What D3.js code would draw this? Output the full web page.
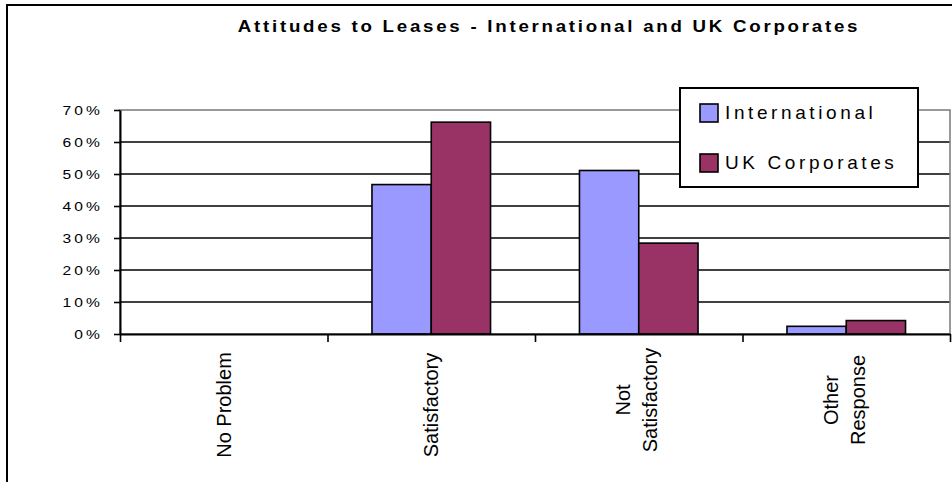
<!DOCTYPE html>
<html>
<head>
<meta charset="utf-8">
<script src="https://cdn.jsdelivr.net/npm/d3@7"></script>
<style>
  html, body { margin: 0; padding: 0; background: #fff; }
  svg { display: block; font-family: "Liberation Sans", Arial, sans-serif; }
</style>
</head>
<body>
<svg id="chart" width="952" height="482"></svg>
<script>
// Survey answers, share of respondents (%)
const categories = ["No Problem", "Satisfactory", "Not Satisfactory", "Other Response"];
const categoryLines = [["No Problem"], ["Satisfactory"], ["Not", "Satisfactory"], ["Other", "Response"]];
const seriesNames = ["International", "UK Corporates"];
const international = [0, 46.7, 51.1, 2.4];
const ukCorporates = [0, 66.2, 28.4, 4.2];
const yTicks = [0, 10, 20, 30, 40, 50, 60, 70];
const titleText = "Attitudes to Leases - International and UK Corporates";

const seriesColors = ["#9999FF", "#993366"];
const seriesValues = [international, ukCorporates];

const svg = d3.select("#chart");

// chart frame
svg.append("rect")
  .attr("x", 7).attr("y", 5)
  .attr("width", 990).attr("height", 520)
  .attr("fill", "#fff").attr("stroke", "#000").attr("stroke-width", 2);

const plot = { left: 120, right: 950, top: 110, bottom: 334 };

const y = d3.scaleLinear().domain([0, 70]).range([plot.bottom, plot.top]);

// category slots with a 150% gap between bar groups
const gap = 1.5 / 3.5;
const x0 = d3.scaleBand().domain(categories)
  .range([plot.left, plot.right])
  .paddingInner(gap).paddingOuter(gap / 2);
const x1 = d3.scaleBand().domain(seriesNames).range([0, x0.bandwidth()]);

// slot boundaries for the category axis ticks
const xEdge = d3.scaleLinear().domain([0, categories.length]).range([plot.left, plot.right]);

// gridlines
svg.append("g")
  .selectAll("line")
  .data(yTicks.filter(t => t > 0 && t < 70))
  .join("line")
  .attr("x1", plot.left).attr("x2", plot.right)
  .attr("y1", d => y(d)).attr("y2", d => y(d))
  .attr("stroke", "#000").attr("stroke-width", 1.6);

// plot area border
svg.append("rect")
  .attr("x", plot.left).attr("y", plot.top)
  .attr("width", plot.right - plot.left).attr("height", plot.bottom - plot.top)
  .attr("fill", "none").attr("stroke", "#808080").attr("stroke-width", 1.6);

// bars
const groups = svg.append("g")
  .selectAll("g")
  .data(categories)
  .join("g")
  .attr("transform", d => `translate(${x0(d)},0)`);

groups.selectAll("rect")
  .data((c, i) => seriesNames.map((s, k) => ({ s, v: seriesValues[k][i], k })))
  .join("rect")
  .filter(d => d.v > 0)
  .attr("x", d => x1(d.s))
  .attr("width", x1.bandwidth())
  .attr("y", d => y(d.v))
  .attr("height", d => y(0) - y(d.v))
  .attr("fill", d => seriesColors[d.k])
  .attr("stroke", "#000").attr("stroke-width", 1.6);

// value axis
const yAxis = svg.append("g")
  .attr("transform", `translate(${plot.left},0)`)
  .call(d3.axisLeft(y).tickValues(yTicks).tickSize(6).tickSizeOuter(0).tickFormat(d => d + "%"));
yAxis.select(".domain").attr("stroke", "#000").attr("stroke-width", 2);
yAxis.selectAll(".tick line").attr("stroke", "#000").attr("stroke-width", 1.6);
yAxis.selectAll(".tick text")
  .attr("x", 0).attr("dy", "0.36em")
  .attr("transform", "translate(-17,0) scale(1.2,1)")
  .attr("font-size", 13).attr("fill", "#000")
  .attr("letter-spacing", 2.6)
  .attr("font-family", "Liberation Sans, Arial, sans-serif");

// category axis
const xAxis = svg.append("g")
  .attr("transform", `translate(0,${plot.bottom})`)
  .call(d3.axisBottom(xEdge).tickValues(d3.range(categories.length + 1)).tickSize(8).tickSizeOuter(0).tickFormat(""));
xAxis.select(".domain").attr("stroke", "#000").attr("stroke-width", 2);
xAxis.selectAll(".tick line").attr("stroke", "#000").attr("stroke-width", 1.6);

// rotated category labels
const labelMid = 405;
const lineGap = 27;
categories.forEach((c, i) => {
  const lines = categoryLines[i];
  const cx = x0(c) + x0.bandwidth() / 2 - (lines.length > 1 ? 2 : 0);
  lines.forEach((ln, j) => {
    const off = (j - (lines.length - 1) / 2) * lineGap;
    svg.append("text")
      .attr("transform", `translate(${cx + off},${labelMid - (lines.length > 1 ? 5 : 0)}) rotate(-90)`)
      .attr("text-anchor", "middle")
      .attr("dy", "0.36em")
      .attr("font-size", 20)
      .attr("fill", "#000")
      .text(ln);
  });
});

// title
svg.append("text")
  .attr("transform", "translate(549,32) scale(1.1,1)")
  .attr("text-anchor", "middle")
  .attr("font-size", 17)
  .attr("font-weight", "bold")
  .attr("letter-spacing", 2.5)
  .attr("fill", "#000")
  .text(titleText);

// legend
const legend = svg.append("g");
legend.append("rect")
  .attr("x", 680).attr("y", 88).attr("width", 238).attr("height", 99)
  .attr("fill", "#fff").attr("stroke", "#000").attr("stroke-width", 2);
const rows = legend.selectAll("g.item")
  .data(seriesNames)
  .join("g")
  .attr("class", "item")
  .attr("transform", (d, i) => `translate(700,${104 + i * 50})`);
rows.append("rect")
  .attr("width", 18).attr("height", 18)
  .attr("fill", (d, i) => seriesColors[i])
  .attr("stroke", "#000").attr("stroke-width", 1.6);
rows.append("text")
  .attr("x", 25).attr("y", 14.5)
  .attr("font-size", 19)
  .attr("letter-spacing", 3.6)
  .attr("fill", "#000")
  .text(d => d);
</script>
</body>
</html>
